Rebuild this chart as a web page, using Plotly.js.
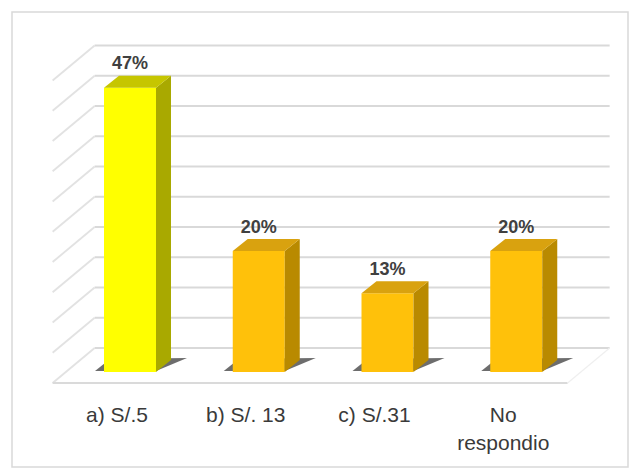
<!DOCTYPE html>
<html>
<head>
<meta charset="utf-8">
<script src="https://cdn.plot.ly/plotly-3.0.1.min.js"></script>
<style>html,body{margin:0;padding:0;background:#fff;}#chart{width:644px;height:475px;}</style>
</head>
<body>
<div id="chart"></div>
<script>
// ---- data ----
var categories = ["a) S/.5", "b) S/. 13", "c) S/.31", "No<br>respondio"];
var values = [47, 20, 13, 20];
var labels = ["47%", "20%", "13%", "20%"];
var gridValues = [0, 5, 10, 15, 20, 25, 30, 35, 40, 45, 50];

// ---- styles ----
var frontColors = ["#FFFF00", "#FFC10A", "#FFC10A", "#FFC10A"];
var sideColors  = ["#A9A900", "#B98A00", "#B98A00", "#B98A00"];
var topColors   = ["#C6C600", "#D9A20F", "#D9A20F", "#D9A20F"];

var W = 644, H = 475;
var slotPx = 128.75;
var x0Px = 117;
var y0Px = 383;
var pctPx = 6.05;
var domL = 20, domR = 630, domT = 20, domB = 390;

function dxU(px){ return px / slotPx; }
function dyU(px){ return px / pctPx; }

var xRange = [(domL - x0Px)/slotPx, (domR - x0Px)/slotPx];
var yRange = [(y0Px - domB)/pctPx, (y0Px - domT)/pctPx];

var wallDx = dxU(42), wallDy = dyU(35);
var barShiftX = dxU(13), barBase = dyU(11);
var barDepthX = dxU(15), barDepthY = dyU(12);
var barW = 52 / slotPx;

var idx = categories.map(function(_, i){ return i; });
var barX = idx.map(function(i){ return i + barShiftX; });

var shapes = [];
shapes.push({type:'rect', xref:'paper', yref:'paper', x0:12/W, x1:628/W, y0:1-467/H, y1:1-12/H,
  line:{color:'#d9d9d9', width:1.5}, fillcolor:'rgba(0,0,0,0)', layer:'below'});
gridValues.forEach(function(g){
  shapes.push({type:'line', xref:'x', yref:'y', x0:-0.5 + wallDx, x1:3.5 + wallDx,
    y0:g + wallDy, y1:g + wallDy, line:{color:'#d9d9d9', width:2}, layer:'below'});
  shapes.push({type:'line', xref:'x', yref:'y', x0:-0.5, x1:-0.5 + wallDx,
    y0:g, y1:g + wallDy, line:{color:'#e2e2e2', width:1.8}, layer:'below'});
});
shapes.push({type:'line', xref:'x', yref:'y', x0:-0.5, x1:3.5, y0:0, y1:0,
  line:{color:'#dadada', width:2}, layer:'below'});
shapes.push({type:'line', xref:'x', yref:'y', x0:3.5, x1:3.5 + wallDx, y0:0, y1:wallDy,
  line:{color:'#efefef', width:1.2}, layer:'below'});

// shadows at bar bases
idx.forEach(function(i){
  var xl = barX[i] - barW/2 - dxU(9), xr = barX[i] + barW/2;
  var yb = barBase + dyU(1);
  var path = 'M ' + xl + ' ' + yb + ' L ' + xr + ' ' + yb +
    ' L ' + (xr + barDepthX + dxU(16)) + ' ' + (yb + barDepthY + dyU(1)) +
    ' L ' + (xl + barDepthX) + ' ' + (yb + barDepthY) + ' Z';
  shapes.push({type:'path', xref:'x', yref:'y', path:path,
    fillcolor:'rgba(60,60,60,0.75)', line:{width:0}, layer:'below'});
});

var traces = [];
traces.push({type:'bar', x:barX, y:values, base:barBase, width:barW,
  marker:{color:frontColors, line:{width:0}}, hoverinfo:'skip', showlegend:false});

idx.forEach(function(i){
  var xl = barX[i] - barW/2, xr = barX[i] + barW/2;
  var yb = barBase, yt = barBase + values[i];
  traces.push({type:'scatter', mode:'lines', fill:'toself', fillcolor:sideColors[i],
    line:{width:0}, hoverinfo:'skip', showlegend:false,
    x:[xr, xr + barDepthX, xr + barDepthX, xr, xr],
    y:[yb, yb + barDepthY, yt + barDepthY, yt, yb]});
  traces.push({type:'scatter', mode:'lines', fill:'toself', fillcolor:topColors[i],
    line:{width:0}, hoverinfo:'skip', showlegend:false,
    x:[xl, xr, xr + barDepthX, xl + barDepthX, xl],
    y:[yt, yt, yt + barDepthY, yt + barDepthY, yt]});
});

traces.push({type:'scatter', mode:'text', x:barX, y:values.map(function(v){ return v + barBase + dyU(23); }),
  text:labels, textposition:'middle center', cliponaxis:false,
  textfont:{family:'Liberation Sans, Arial, sans-serif', size:18, color:'#404040', weight:'bold'},
  hoverinfo:'skip', showlegend:false});

var layout = {
  width:W, height:H,
  margin:{l:0, r:0, t:0, b:0},
  paper_bgcolor:'#ffffff', plot_bgcolor:'rgba(0,0,0,0)',
  showlegend:false,
  xaxis:{domain:[domL/W, domR/W], range:xRange, showgrid:false, zeroline:false, showline:false,
    tickmode:'array', tickvals:idx, ticktext:categories, ticks:'outside', ticklen:6,
    tickcolor:'rgba(0,0,0,0)',
    tickfont:{family:'Liberation Sans, Arial, sans-serif', size:21, color:'#3a3a3a'}, fixedrange:true},
  yaxis:{domain:[1 - domB/H, 1 - domT/H], range:yRange, showgrid:false, zeroline:false, showline:false,
    showticklabels:false, ticks:'', fixedrange:true},
  shapes:shapes
};

Plotly.newPlot('chart', traces, layout, {displayModeBar:false, staticPlot:true});
</script>
</body>
</html>
